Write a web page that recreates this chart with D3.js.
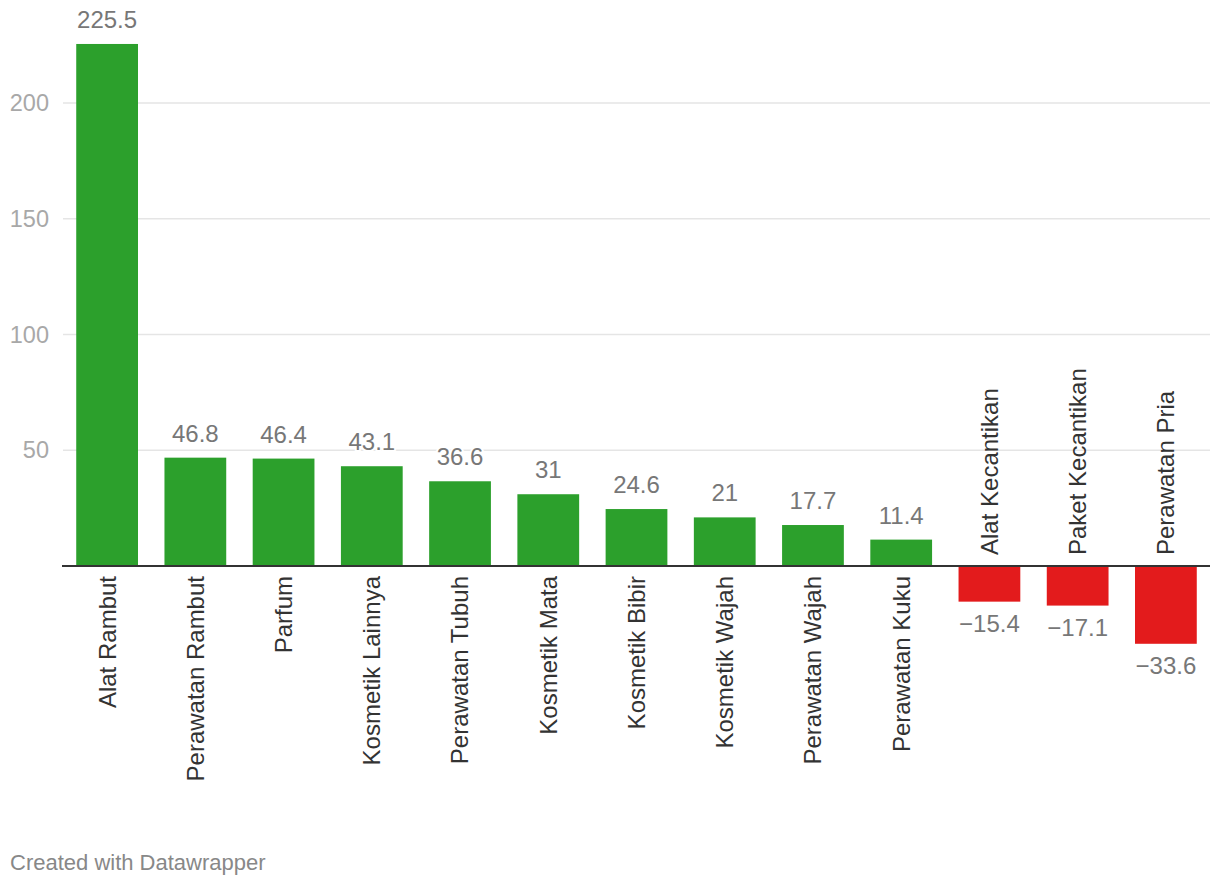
<!DOCTYPE html>
<html>
<head>
<meta charset="utf-8">
<script src="https://cdn.jsdelivr.net/npm/d3@7"></script>
<style>
  body { margin: 0; background: #fff; }
  svg { display: block; font-family: "Liberation Sans", Arial, Helvetica, sans-serif; }
</style>
</head>
<body>
<svg id="chart"></svg>
<script>
const categories = ['Alat Rambut', 'Perawatan Rambut', 'Parfum', 'Kosmetik Lainnya', 'Perawatan Tubuh',
  'Kosmetik Mata', 'Kosmetik Bibir', 'Kosmetik Wajah', 'Perawatan Wajah', 'Perawatan Kuku',
  'Alat Kecantikan', 'Paket Kecantikan', 'Perawatan Pria'];
const values = [225.5, 46.8, 46.4, 43.1, 36.6, 31, 24.6, 21, 17.7, 11.4, -15.4, -17.1, -33.6];
const yTicks = [50, 100, 150, 200];

const W = 1220, H = 886;
const svg = d3.select('#chart').attr('width', W).attr('height', H);

const left = 63, right = 1210;
const x = d3.scaleBand().domain(categories).range([left, right]).paddingInner(0.3).paddingOuter(0.15);
// zero at 566, 200 at 103
const y = d3.scaleLinear().domain([0, 200]).range([566, 103]);

const fmt = v => (v < 0 ? '\u2212' + Math.abs(v) : String(v));

// gridlines
svg.append('g')
  .selectAll('line')
  .data(yTicks)
  .join('line')
  .attr('x1', left).attr('x2', right)
  .attr('y1', d => y(d)).attr('y2', d => y(d))
  .attr('stroke', '#e5e5e5')
  .attr('stroke-width', 1.5);

svg.append('g')
  .selectAll('text')
  .data(yTicks)
  .join('text')
  .attr('x', 49)
  .attr('y', d => y(d))
  .attr('dy', '0.35em')
  .attr('text-anchor', 'end')
  .attr('font-size', 23.5)
  .attr('fill', '#a8a8a8')
  .text(d => d);

// bars
svg.append('g')
  .selectAll('rect')
  .data(values)
  .join('rect')
  .attr('x', (d, i) => x(categories[i]))
  .attr('width', x.bandwidth())
  .attr('y', d => y(Math.max(0, d)))
  .attr('height', d => Math.abs(y(d) - y(0)))
  .attr('fill', d => d >= 0 ? '#2ca02c' : '#e31b1c');

// baseline
svg.append('line')
  .attr('x1', left - 1).attr('x2', right)
  .attr('y1', y(0)).attr('y2', y(0))
  .attr('stroke', '#333')
  .attr('stroke-width', 2);

// value labels
svg.append('g')
  .selectAll('text')
  .data(values)
  .join('text')
  .attr('x', (d, i) => x(categories[i]) + x.bandwidth() / 2)
  .attr('y', d => d >= 0 ? y(d) - 16 : y(d) + 30)
  .attr('text-anchor', 'middle')
  .attr('font-size', 24)
  .attr('fill', '#777')
  .attr('stroke', '#fff')
  .attr('stroke-width', 4)
  .attr('paint-order', 'stroke')
  .text(d => fmt(d));

// category labels
svg.append('g')
  .selectAll('text')
  .data(values)
  .join('text')
  .attr('transform', (d, i) => {
    const cx = x(categories[i]) + x.bandwidth() / 2;
    const ty = d >= 0 ? y(0) + 10 : y(0) - 11;
    return `translate(${cx},${ty}) rotate(-90)`;
  })
  .attr('dy', '0.35em')
  .attr('text-anchor', d => d >= 0 ? 'end' : 'start')
  .attr('font-size', 24)
  .attr('fill', '#333')
  .text((d, i) => categories[i]);

// footer
svg.append('text')
  .attr('x', 10)
  .attr('y', 870)
  .attr('font-size', 22)
  .attr('fill', '#888')
  .text('Created with Datawrapper');
</script>
</body>
</html>
